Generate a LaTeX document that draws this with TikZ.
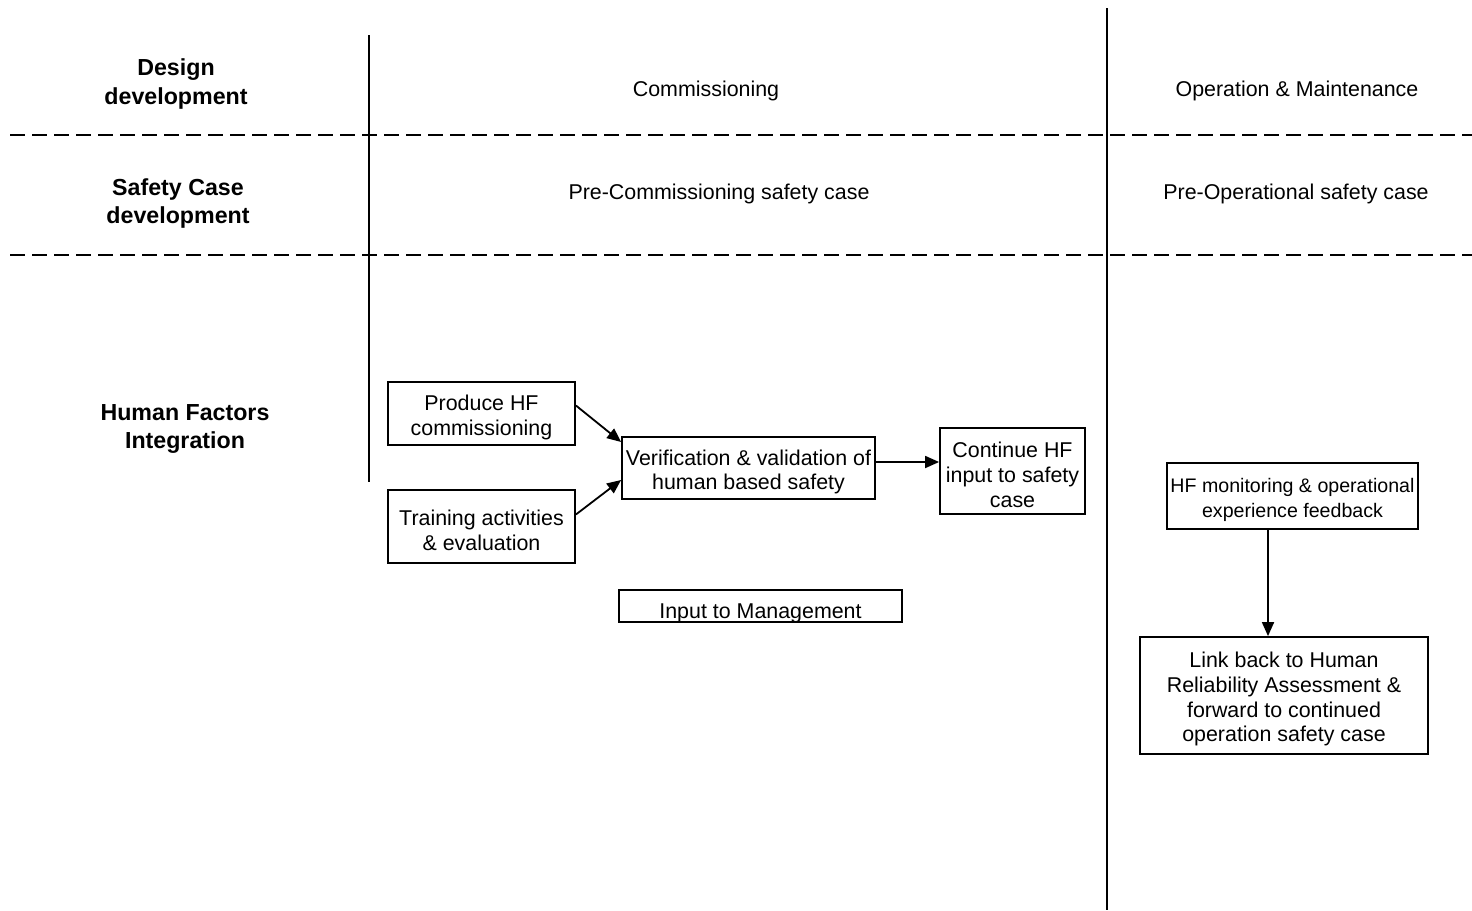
\documentclass[tikz,border=0pt]{standalone}
\usepackage{fontspec}
\setmainfont{Liberation Sans}
\usetikzlibrary{arrows.meta,positioning}
\newcommand{\hfnorm}{\fontsize{10.7}{12.3}\selectfont}
\newcommand{\hfbold}{\fontsize{11.6}{14}\selectfont\bfseries}
\tikzset{
	hfbox/.style={draw, line width=0.9pt, inner sep=0pt},
	boxtext/.style={align=center, font=\hfnorm, inner sep=0pt, yshift=-1.9pt},
	lane/.style={align=center, font=\hfbold},
	phase/.style={font=\hfnorm},
	lanesep/.style={line width=1.4pt, dash pattern=on 7.5pt off 3.5pt},
	stagesep/.style={line width=0.8pt},
	flow/.style={->, line width=0.9pt}
}

\begin{document}
\begin{tikzpicture}[x=0.5pt,y=-0.5pt,>={Triangle[length=7pt,width=6pt]}]
	\useasboundingbox (0,0) rectangle (1472,910);
	% lanes and stages
	\draw[lanesep] (10,135) -- (1472,135);
	\draw[lanesep] (10,255) -- (1472,255);
	\draw[stagesep] (369,35) -- (369,482);
	\draw[stagesep] (1107,8) -- (1107,910);
	\node[lane] (design) at (176,84) {Design\\development};
	\node[lane] (safety) at (178,203) {Safety Case\\development};
	\node[lane] (hfi) at (185,429) {Human Factors\\Integration};
	\node[phase] (comm) at (706,91) {Commissioning};
	\node[phase] (opmt) at (1297,91) {Operation \& Maintenance};
	\node[phase] (precomm) at (719,194) {Pre-Commissioning safety case};
	\node[phase] (preop) at (1296,194) {Pre-Operational safety case};
	% commissioning
	\node[hfbox, minimum width=93.5pt, minimum height=31.5pt,
		label={[boxtext]center:Produce HF\\commissioning}] (produce) at (481.5,413.5) {};
	\node[hfbox, minimum width=93.5pt, minimum height=36.5pt,
		label={[boxtext]center:Training activities\\\& evaluation}] (training) at (481.5,526.5) {};
	\node[hfbox, minimum width=126.5pt, minimum height=31pt,
		label={[boxtext]center:Verification \& validation of\\human based safety}] (verif) at (748.5,468) {};
	\node[hfbox, minimum width=72.5pt, minimum height=43pt,
		label={[boxtext]center:Continue HF\\input to safety\\case}] (cont) at (1012.5,471) {};
	\node[hfbox, minimum width=141.5pt, minimum height=16pt,
		label={[boxtext, yshift=-1.7pt]center:Input to Management}] (inmgmt) at (760.5,606) {};
	\draw[flow] ([yshift=4pt]produce.east) -- ([yshift=13pt]verif.west);
	\draw[flow] ([yshift=6pt]training.east) -- ([yshift=-6pt]verif.west);
	\draw[flow] ([yshift=3pt]verif.east) -- ([yshift=3pt]verif.east -| cont.west);
	% operation
	\node[hfbox, minimum width=125.5pt, minimum height=33pt,
		label={[boxtext, font=\fontsize{9.8}{12.3}\selectfont]center:HF monitoring \& operational\\experience feedback}] (hfmon) at (1292.5,496) {};
	\node[hfbox, minimum width=144pt, minimum height=58.5pt,
		label={[boxtext]center:Link back to Human\\Reliability Assessment \&\\forward to continued\\operation safety case}] (linkback) at (1284,695.5) {};
	\draw[flow] ([xshift=-12.25pt]hfmon.south) -- ([xshift=-12.25pt]hfmon.south |- linkback.north);
\end{tikzpicture}
\end{document}
